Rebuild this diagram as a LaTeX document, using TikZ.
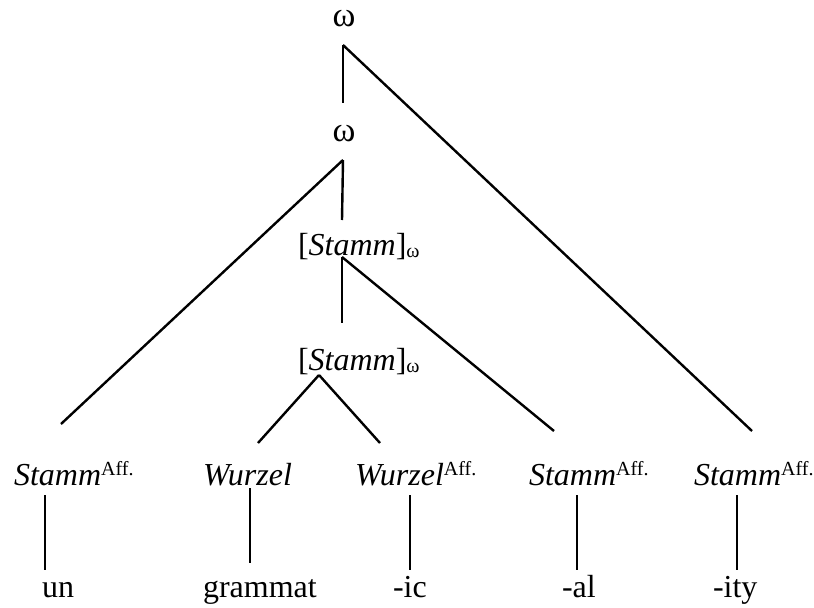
\documentclass[tikz,border=0pt]{standalone}
\usepackage{fontspec}
\setmainfont{Liberation Serif}[ItalicFont={Liberation Serif Italic},BoldFont={Liberation Serif Bold}]
\newcommand{\supaff}{\raisebox{7pt}{\fontsize{15}{15}\selectfont Aff.}}
\newcommand{\subom}{\raisebox{-2pt}{\fontsize{15}{15}\selectfont ω}}
\newcommand{\bigom}{{\fontsize{26}{28}\selectfont ω}}
\begin{document}
\begin{tikzpicture}[x=0.75pt,y=-0.75pt,
  lbl/.style={inner sep=0pt,outer sep=0pt,font=\fontsize{24}{28}\selectfont},
  omlbl/.style={lbl,text height=10pt,text depth=0pt},
  edge/.style={line width=1.8pt,line cap=butt}]
\useasboundingbox (0,0) rectangle (814,607);
% nodes
\node[omlbl,anchor=base] (om1) at (344,26) {\bigom};
\node[omlbl,anchor=base] (om2) at (344,141) {\bigom};
\node[lbl,anchor=base west] (st1) at (298,255) {[\textit{Stamm}]\subom};
\node[lbl,anchor=base west] (st2) at (298,370) {[\textit{Stamm}]\subom};
\node[lbl,anchor=base west] (b1) at (14,485) {\textit{Stamm}\supaff};
\node[lbl,anchor=base west] (b2) at (203,485) {\textit{Wurzel}};
\node[lbl,anchor=base west] (b3) at (355,485) {\textit{Wurzel}\supaff};
\node[lbl,anchor=base west] (b4) at (529,485) {\textit{Stamm}\supaff};
\node[lbl,anchor=base west] (b5) at (694,485) {\textit{Stamm}\supaff};
\node[lbl,anchor=base west] (w1) at (42,597) {un};
\node[lbl,anchor=base west] (w2) at (203,597) {grammat};
\node[lbl,anchor=base west] (w3) at (393,597) {-ic};
\node[lbl,anchor=base west] (w4) at (562,597) {-al};
\node[lbl,anchor=base west] (w5) at (713,597) {-ity};
% attachment points
\coordinate (om1d) at (343,45);
\coordinate (om2u) at (343,103);
\coordinate (om2d) at (343,160);
\coordinate (st1u) at (342,220);
\coordinate (st1d) at (342,257);
\coordinate (st2u) at (342,323);
\coordinate (st2d) at (319,375);
\coordinate (b1u) at (61,424);
\coordinate (b2u) at (258,443);
\coordinate (b3u) at (380,443);
\coordinate (b4u) at (554,431);
\coordinate (b5u) at (752,431);
\coordinate (b1d) at (45,495);
\coordinate (b2d) at (250,488);
\coordinate (b3d) at (410,495);
\coordinate (b4d) at (577,495);
\coordinate (b5d) at (737,495);
\coordinate (w1u) at (45,570);
\coordinate (w2u) at (250,563);
\coordinate (w3u) at (410,570);
\coordinate (w4u) at (577,570);
\coordinate (w5u) at (737,570);
% edges
\draw[edge] (om1d) -- (om2u);
\draw[edge] (om1d) -- (b5u);
\draw[edge] (om2d) -- (st1u);
\draw[edge] (om2d) -- (b1u);
\draw[edge] (st1d) -- (st2u);
\draw[edge] (st1d) -- (b4u);
\draw[edge] (st2d) -- (b2u);
\draw[edge] (st2d) -- (b3u);
\draw[edge] (b1d) -- (w1u);
\draw[edge] (b2d) -- (w2u);
\draw[edge] (b3d) -- (w3u);
\draw[edge] (b4d) -- (w4u);
\draw[edge] (b5d) -- (w5u);
\end{tikzpicture}
\end{document}
